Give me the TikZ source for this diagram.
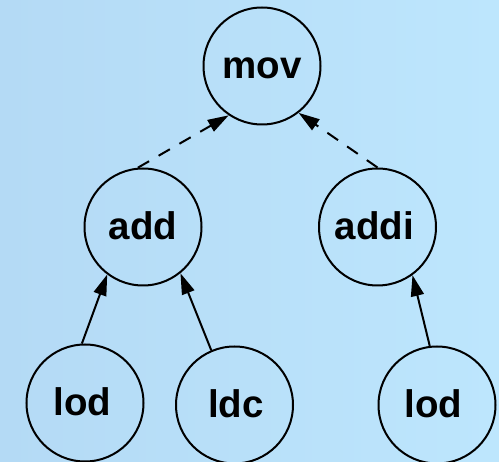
\documentclass[tikz,border=0pt]{standalone}
\usepackage{fontspec}
\setmainfont{Liberation Sans}
\usetikzlibrary{arrows.meta}
\definecolor{bgleft}{RGB}{180,218,245}
\definecolor{bgright}{RGB}{189,230,253}
\tikzset{
  opnode/.style={circle, draw=black, line width=2pt, minimum size=117pt, inner sep=0pt,
    font=\fontsize{38.5}{40}\selectfont\bfseries, text height=26pt, text depth=0pt},
  tree/.style={line width=2pt, -{Triangle[length=21pt,width=13pt]}},
  chain/.style={tree, dash pattern=on 13pt off 11pt}
}
\begin{document}
\begin{tikzpicture}[x=1pt,y=-1pt]
\shade[left color=bgleft, right color=bgright] (0,0) rectangle (499,462);
\useasboundingbox (0,0) rectangle (499,462);
\node[opnode] (mov) at (262,66) {mov};
\node[opnode] (add) at (143,227) {add};
\node[opnode] (addi) at (377.5,227) {\hspace*{-6pt}addi};
\node[opnode] (lod1) at (85,403) {\hspace*{-5pt}lod};
\node[opnode] (ldc) at (234.5,405) {\hspace*{3pt}ldc};
\node[opnode] (lod2) at (437,405) {\hspace*{-7pt}lod};
\draw[chain] (add.95) -- (mov.236);
\draw[chain] (addi.90) -- (mov.308.5);
\draw[tree] (lod1.93) -- (add.233);
\draw[tree] (ldc.113) -- (add.309);
\draw[tree] (lod2.97) -- (addi.306);
\end{tikzpicture}
\end{document}
